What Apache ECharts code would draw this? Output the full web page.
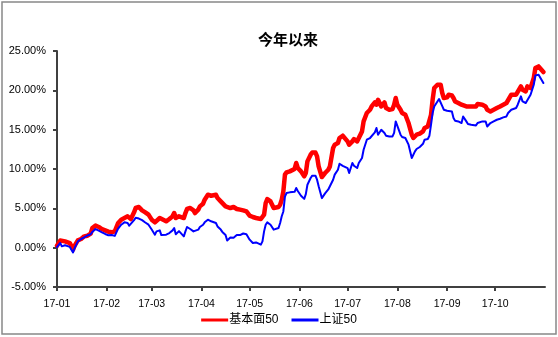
<!DOCTYPE html>
<html>
<head>
<meta charset="utf-8">
<script src="https://cdn.jsdelivr.net/npm/echarts@6/dist/echarts.min.js"></script>
<style>
  html, body { margin: 0; padding: 0; background: #fff; }
  #chart { width: 558px; height: 337px; }
</style>
</head>
<body>
<div id="chart"></div>
<script>
// Cumulative return since the start of 2017 (%), sampled trading dates
const dates = [
  '2017-01-01','2017-01-03','2017-01-04','2017-01-06','2017-01-07','2017-01-09','2017-01-11','2017-01-12',
  '2017-01-14','2017-01-16','2017-01-18','2017-01-20','2017-01-22','2017-01-23','2017-01-25','2017-01-27',
  '2017-01-29','2017-01-31','2017-02-02','2017-02-04','2017-02-06','2017-02-08','2017-02-10','2017-02-12',
  '2017-02-14','2017-02-15','2017-02-16','2017-02-18','2017-02-19','2017-02-21','2017-02-23','2017-02-25',
  '2017-02-27','2017-03-01','2017-03-03',
  '2017-03-04','2017-03-06','2017-03-07','2017-03-10','2017-03-12','2017-03-14','2017-03-15','2017-03-16',
  '2017-03-18','2017-03-19','2017-03-21','2017-03-22','2017-03-23','2017-03-25','2017-03-27','2017-03-28',
  '2017-03-30','2017-03-31','2017-04-02','2017-04-03','2017-04-05','2017-04-07','2017-04-08','2017-04-10',
  '2017-04-11','2017-04-13','2017-04-14','2017-04-16','2017-04-17','2017-04-19','2017-04-21','2017-04-23',
  '2017-04-25','2017-04-27','2017-04-29',
  '2017-05-01','2017-05-03','2017-05-05','2017-05-06','2017-05-08','2017-05-09','2017-05-10','2017-05-11',
  '2017-05-12','2017-05-13','2017-05-14','2017-05-16','2017-05-17','2017-05-19','2017-05-20','2017-05-21',
  '2017-05-22','2017-05-23','2017-05-24','2017-05-26','2017-05-27','2017-05-29','2017-05-30','2017-05-31',
  '2017-06-02','2017-06-04','2017-06-05','2017-06-06','2017-06-08','2017-06-09','2017-06-11','2017-06-12',
  '2017-06-13','2017-06-15','2017-06-16','2017-06-17','2017-06-19','2017-06-20','2017-06-22','2017-06-23',
  '2017-06-25','2017-06-26','2017-06-28','2017-06-29',
  '2017-07-01','2017-07-02','2017-07-04','2017-07-05','2017-07-07','2017-07-08','2017-07-10','2017-07-11',
  '2017-07-13','2017-07-15','2017-07-16','2017-07-18','2017-07-19','2017-07-20','2017-07-21','2017-07-22',
  '2017-07-24','2017-07-25','2017-07-27','2017-07-29','2017-07-30','2017-07-31','2017-08-01','2017-08-03',
  '2017-08-04','2017-08-06','2017-08-07','2017-08-08','2017-08-10','2017-08-11','2017-08-12','2017-08-13',
  '2017-08-15','2017-08-17','2017-08-18','2017-08-20','2017-08-21','2017-08-22','2017-08-23','2017-08-24',
  '2017-08-26','2017-08-27',
  '2017-08-28','2017-08-29','2017-08-30','2017-09-01','2017-09-02','2017-09-04','2017-09-05','2017-09-06',
  '2017-09-08','2017-09-10','2017-09-11','2017-09-13','2017-09-14','2017-09-16','2017-09-17','2017-09-19',
  '2017-09-20','2017-09-21','2017-09-23','2017-09-25','2017-09-26','2017-09-28','2017-09-30','2017-10-02',
  '2017-10-04','2017-10-06','2017-10-08','2017-10-09','2017-10-11','2017-10-12','2017-10-14','2017-10-15',
  '2017-10-17','2017-10-18','2017-10-20','2017-10-21','2017-10-23','2017-10-25','2017-10-26','2017-10-28',
  '2017-10-29','2017-10-31'
];

// 基本面50
const fundamental50 = [
  0.25,0.90,0.67,0.80,0.93,0.59,-0.25,0.25,
  0.93,1.10,1.44,1.52,1.78,2.50,2.80,2.63,
  2.37,2.20,2.03,1.95,2.07,3.10,3.56,3.77,
  3.98,4.20,3.64,4.49,5.04,5.17,4.74,4.49,
  4.20,3.56,3.22,
  3.35,3.77,3.56,3.35,3.64,3.98,4.40,3.77,
  3.98,4.20,3.77,4.40,4.92,5.04,4.74,4.40,
  4.83,5.25,5.59,6.10,6.73,6.60,6.52,6.73,
  6.31,5.88,5.68,5.25,5.46,5.04,5.17,4.92,
  4.83,4.74,4.61,
  4.07,3.90,3.77,3.77,3.64,3.56,4.20,5.68,
  6.19,6.19,5.88,5.04,4.83,5.17,5.46,6.10,
  7.15,9.28,9.57,9.70,9.82,10.00,10.76,10.12,
  9.70,9.06,9.49,10.97,11.82,12.10,12.10,11.60,
  10.33,8.98,9.15,9.49,9.91,10.33,12.67,13.09,
  13.30,13.94,14.23,14.07,
  13.51,13.09,13.51,13.81,13.51,13.94,14.78,16.05,
  17.12,17.53,17.95,18.46,18.17,18.80,18.39,17.95,
  18.46,17.75,17.53,17.62,18.17,19.02,18.17,17.53,
  17.12,16.90,16.90,15.84,14.36,13.94,14.14,14.36,
  14.49,14.78,15.21,15.41,15.63,16.90,18.80,20.29,
  20.71,20.84,
  20.71,19.66,19.02,19.10,19.44,19.35,19.02,18.59,
  18.39,18.17,18.39,17.95,18.08,17.95,17.82,17.95,
  18.26,18.17,18.17,17.95,17.53,17.32,17.53,17.75,
  17.95,18.17,18.39,18.59,19.44,19.23,19.44,19.53,
  20.50,20.07,19.87,20.50,20.29,21.56,22.83,23.04,
  22.92,22.33
];

// 上证50
const sse50 = [
  0.08,0.60,0.17,0.30,0.30,0.10,-0.60,-0.04,
  0.80,1.10,1.30,1.55,1.70,2.00,2.37,2.16,
  1.95,1.74,1.57,1.62,1.50,2.40,2.92,3.22,
  3.14,2.80,3.00,3.50,3.80,3.70,3.50,3.20,
  2.92,2.30,1.65,
  2.07,2.20,1.60,1.65,1.86,2.20,2.50,1.70,
  2.10,2.20,1.44,2.07,2.63,2.37,2.07,1.86,
  2.29,2.63,2.92,3.22,3.56,3.35,3.35,3.14,
  2.70,2.30,2.00,1.60,0.90,1.30,1.25,1.60,
  1.60,1.80,1.70,
  1.02,0.60,0.67,0.60,0.38,0.80,2.07,2.92,
  3.22,3.05,2.92,2.29,2.07,2.50,3.14,4.00,
  4.60,6.50,6.95,7.03,7.03,7.10,7.58,7.20,
  6.60,6.20,6.80,8.00,8.86,9.15,9.15,8.64,
  7.80,6.30,6.40,6.90,7.40,7.37,8.64,9.28,
  9.91,10.67,10.40,10.55,
  10.12,9.50,10.76,10.42,10.12,10.76,11.40,12.45,
  13.72,13.94,14.07,14.65,15.21,14.36,14.57,14.99,
  14.57,14.23,14.14,14.14,14.60,16.05,15.80,14.36,
  14.07,13.94,13.94,13.09,11.40,11.60,12.24,12.54,
  12.80,13.20,13.72,13.81,14.23,15.63,17.12,17.95,
  18.59,18.90,
  18.68,18.00,17.53,17.40,17.53,17.32,16.48,16.14,
  16.05,15.84,16.68,16.05,15.72,15.63,15.75,15.54,
  15.84,15.84,16.05,16.05,15.41,15.84,16.05,16.26,
  16.39,16.56,16.68,17.12,17.53,17.75,17.75,18.17,
  19.23,18.59,18.39,18.59,19.44,20.71,21.90,21.99,
  21.64,20.93
];

// Month ticks on the date axis
const monthStarts = ['2017-01-01','2017-02-01','2017-03-01','2017-04-01','2017-05-01',
                     '2017-06-01','2017-07-01','2017-08-01','2017-09-01','2017-10-01'];
const monthLabels = ['17-01','17-02','17-03','17-04','17-05','17-06','17-07','17-08','17-09','17-10'];
const axisStart = '2017-01-01';
const axisEnd = '2017-11-01';

// Dates are placed on a linear day scale (days since 1 Jan)
const DAY = 86400000;
const origin = Date.UTC(2017, 0, 1);
function dayIndex(s) {
  const p = s.split('-').map(Number);
  return Math.round((Date.UTC(p[0], p[1] - 1, p[2]) - origin) / DAY);
}

const tickDays = monthStarts.map(dayIndex);
const labelByDay = {};
tickDays.forEach((d, i) => { labelByDay[d] = monthLabels[i]; });

const latinFont = '"Liberation Sans", Arial, "Noto Sans CJK SC", sans-serif';
const axisColor = '#404040';

const chart = echarts.init(document.getElementById('chart'), null, { renderer: 'canvas' });
chart.setOption({
  animation: false,
  backgroundColor: '#ffffff',
  title: {
    text: '今年以来',
    left: 253,
    top: 27,
    textStyle: { fontSize: 15, fontWeight: 'bold', color: '#000', fontFamily: '"Noto Sans CJK SC", sans-serif' }
  },
  legend: {
    left: 'center',
    top: 309,
    icon: 'rect',
    itemWidth: 27,
    itemHeight: 3,
    itemGap: 13,
    textStyle: { fontSize: 12, color: '#000', fontFamily: latinFont, padding: [0, 0, 0, -4] },
    data: ['基本面50', '上证50']
  },
  graphic: [{
    type: 'rect',
    shape: { x: 2, y: 2, width: 554, height: 332 },
    style: { fill: 'none', stroke: '#888888', lineWidth: 1.5 },
    silent: true
  }],
  grid: { left: 57, right: 13, top: 51, bottom: 50 },
  xAxis: {
    type: 'value',
    min: dayIndex(axisStart),
    max: dayIndex(axisEnd),
    axisLine: { onZero: false, lineStyle: { color: axisColor, width: 2 } },
    axisTick: { show: true, customValues: tickDays, length: 4, lineStyle: { color: axisColor, width: 2 } },
    axisLabel: {
      customValues: tickDays,
      formatter: v => labelByDay[v] || '',
      fontSize: 10.5,
      color: '#000',
      fontFamily: latinFont,
      margin: 12
    },
    splitLine: { show: false }
  },
  yAxis: {
    type: 'value',
    min: -5,
    max: 25,
    interval: 5,
    axisLine: { show: true, lineStyle: { color: axisColor, width: 2 } },
    axisTick: { show: true, length: 4, lineStyle: { color: axisColor, width: 2 } },
    axisLabel: {
      formatter: v => v.toFixed(2) + '%',
      fontSize: 11,
      color: '#000',
      fontFamily: latinFont,
      margin: 11
    },
    splitLine: { show: false }
  },
  series: [
    {
      name: '基本面50',
      type: 'line',
      showSymbol: false,
      color: '#ff0000',
      lineStyle: { color: '#ff0000', width: 4.5, cap: 'round', join: 'round' },
      data: dates.map((d, i) => [dayIndex(d), fundamental50[i]])
    },
    {
      name: '上证50',
      type: 'line',
      showSymbol: false,
      color: '#0000ff',
      lineStyle: { color: '#0000ff', width: 2, cap: 'round', join: 'round' },
      data: dates.map((d, i) => [dayIndex(d), sse50[i]])
    }
  ]
});
</script>
</body>
</html>
